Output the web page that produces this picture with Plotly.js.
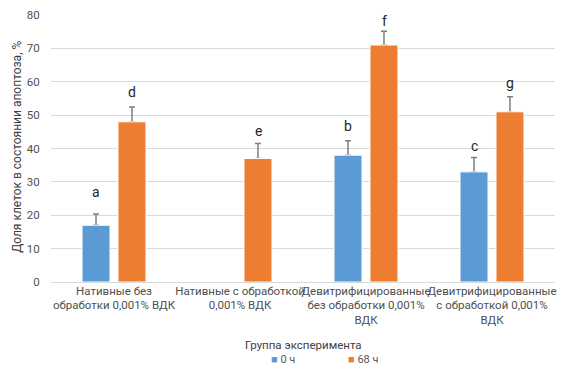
<!DOCTYPE html>
<html>
<head>
<meta charset="utf-8">
<script src="https://cdn.plot.ly/plotly-3.0.1.min.js"></script>
<style>html,body{margin:0;padding:0;background:#fff;}</style>
</head>
<body>
<div id="chart" style="width:565px;height:375px;"></div>
<script>
// ---- data ----
const categories = [
  "Нативные без<br>обработки 0,001% ВДК",
  "Нативные с обработкой<br>0,001% ВДК",
  "Девитрифицированные<br>без обработки 0,001%<br>ВДК",
  "Девитрифицированные<br>с обработкой 0,001%<br>ВДК"
];
const seriesNames = ["0 ч", "68 ч"];
const values0h = [17, null, 38, 33];
const values68h = [48, 37, 71, 51];
const err0h = [3.4, null, 4.3, 4.3];
const err68h = [4.4, 4.5, 4.1, 4.5];
const letters0h = ["a", null, "b", "c"];
const letters68h = ["d", "e", "f", "g"];
const yTicks = [0, 10, 20, 30, 40, 50, 60, 70, 80];

// ---- style ----
const FONT = "Roboto, Open Sans, sans-serif";
const colors = ["#5b9bd5", "#ed7d31"];
const barOffsetPx = 18;
const letterGap0 = [12, 0, 5, 2];
const letterGap68 = [5, 2, 0, 4];

// error-bar carriers (drawn first, hidden under the visible bars)
function errTrace(group, vals, errs) {
  return {
    type: "bar", x: categories, y: vals, offsetgroup: group,
    marker: {color: "rgba(0,0,0,0)"},
    error_y: {type: "data", symmetric: false, array: errs, arrayminus: errs.map(() => 0),
              visible: true, color: "#7f7f7f", thickness: 1.5, width: 3},
    hoverinfo: "none", showlegend: false
  };
}
function barTrace(group, name, vals, color) {
  return {
    type: "bar", name: name, x: categories, y: vals, offsetgroup: group,
    marker: {color: color, line: {color: "#ffffff", width: 1}},
    hoverinfo: "none"
  };
}

const data = [
  errTrace("g0", values0h, err0h),
  errTrace("g1", values68h, err68h),
  barTrace("g0", seriesNames[0], values0h, colors[0]),
  barTrace("g1", seriesNames[1], values68h, colors[1])
];

const annotations = [];
function addLetters(letters, vals, errs, shift, gaps) {
  letters.forEach((l, i) => {
    if (!l) return;
    annotations.push({
      x: categories[i], xref: "x", y: vals[i] + errs[i], yref: "y",
      text: l, showarrow: false, yanchor: "bottom", xshift: shift, yshift: gaps[i],
      font: {family: FONT, size: 14, color: "#262626"}
    });
  });
}
addLetters(letters0h, values0h, err0h, -barOffsetPx, letterGap0);
addLetters(letters68h, values68h, err68h, barOffsetPx, letterGap68);

// axis titles
annotations.push({
  text: "Группа эксперимента", xref: "paper", yref: "paper", x: 0.5, y: -0.236,
  xanchor: "center", yanchor: "middle", showarrow: false, borderpad: 0,
  font: {family: FONT, size: 11.5, color: "#404040"}
});
annotations.push({
  text: "Доля клеток в состоянии апоптоза, %", xref: "paper", yref: "paper",
  x: -0.069, y: 0.507, xanchor: "center", yanchor: "middle", textangle: -90, showarrow: false,
  font: {family: FONT, size: 12, color: "#404040"}
});
// legend (drawn as text entries)
[[0, 0.435], [1, 0.587]].forEach(([k, px]) => {
  annotations.push({
    text: '<span style="color:' + colors[k] + '">■</span> ' + seriesNames[k],
    xref: "paper", yref: "paper", x: px, y: -0.292, xanchor: "left", yanchor: "middle",
    showarrow: false, borderpad: 0, font: {family: FONT, size: 11, color: "#595959"}
  });
});

const layout = {
  width: 565, height: 375,
  margin: {l: 51, r: 10, t: 15, b: 93, autoexpand: false},
  paper_bgcolor: "#ffffff", plot_bgcolor: "#ffffff",
  font: {family: FONT, size: 11.5, color: "#595959"},
  barmode: "group",
  bargap: 0.429,
  bargroupgap: 0.222,
  showlegend: false,
  xaxis: {
    type: "category", showgrid: false, zeroline: false, showline: false,
    ticks: "", tickfont: {family: FONT, size: 11.5, color: "#505050"}, tickangle: 0
  },
  yaxis: {
    range: [0, 80], tickvals: yTicks, showgrid: true, gridcolor: "#d9d9d9", gridwidth: 1,
    zeroline: true, zerolinecolor: "#d9d9d9", zerolinewidth: 1, showline: false,
    ticks: "outside", ticklen: 8, tickcolor: "rgba(0,0,0,0)",
    tickfont: {family: FONT, size: 11.5, color: "#505050"}
  },
  annotations: annotations
};

Plotly.newPlot("chart", data, layout, {displayModeBar: false, staticPlot: true});
</script>
</body>
</html>
